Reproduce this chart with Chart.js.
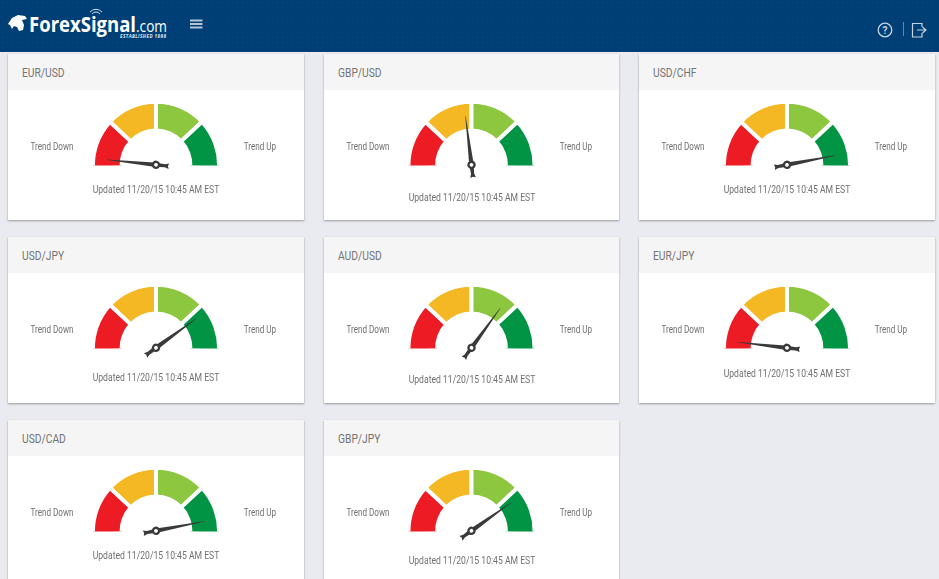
<!DOCTYPE html>
<html>
<head>
<meta charset="utf-8">
<title>ForexSignal trend meters</title>
<script src="https://cdn.jsdelivr.net/npm/chart.js@4"></script>
<style>
  * { box-sizing: border-box; }
  html, body { margin: 0; height: 100%; overflow: hidden; }
  body { background: #e9ebf0; font-family: Roboto, sans-serif; color: #707070; position: relative; }
  .topbar {
    position: absolute; left: 0; top: 0; width: 939px; height: 52px; background-color: #003f76;
    background-image: radial-gradient(rgba(255,255,255,0.035) 0.6px, transparent 0.8px);
    background-size: 5px 5px;
  }
  .topbar svg { position: absolute; left: 0; top: 0; }
  .grid {
    position: absolute; left: 8px; top: 54px;
    display: grid; grid-template-columns: 296px 295px 296px; column-gap: 20px;
    grid-auto-rows: 166px; row-gap: 17px;
  }
  .card { position: relative; background: #fff; box-shadow: 0 1px 2px rgba(0,0,0,0.35); }
  .card-head { height: 36px; background: #f5f5f5; }
  .card canvas { position: absolute; left: 0; top: 36px; }
  .txt { position: absolute; white-space: nowrap; font-size: 10.5px; line-height: 12px; transform: translate(-50%, -50%) scaleX(0.82); }
  .trend { font-size: 10px; transform: translate(-50%, -50%) scaleX(0.81); }
  .title { position: absolute; left: 13.5px; top: 11px; font-size: 13px; line-height: 15px; color: #747474; transform: scaleX(0.79); transform-origin: left center; white-space: nowrap; }
</style>
</head>
<body>
<div class="topbar">
  <svg width="939" height="52" xmlns="http://www.w3.org/2000/svg">
    <path d="M8 24 L12 18 L18 15 L25 16 L27 19 L22 20 L24 25 L23 30 L19 31 L17 27 L14 26 L12 29 L10 25 Z" fill="#fff"/>
    <text x="29" y="32" font-family="Open Sans" font-weight="700" font-size="21.5" fill="#fff" textLength="107" lengthAdjust="spacingAndGlyphs">ForexSignal</text>
    <text x="136" y="32" font-family="Open Sans" font-size="16.5" fill="#fff" textLength="31" lengthAdjust="spacingAndGlyphs">.com</text>
    <text x="120" y="37.5" font-family="Open Sans" font-style="italic" font-weight="700" font-size="4.6" fill="#dfe7ef" textLength="46" lengthAdjust="spacing">ESTABLISHED 1998</text>
    <g fill="none" stroke="#cfdbe6" stroke-width="1">
      <path d="M90 12 A8 8 0 0 1 102 12"/><path d="M92 14 A5 5 0 0 1 100 14"/>
    </g>
    <g fill="#b5c6d5"><rect x="190" y="19.500" width="12.500" height="2"/><rect x="190" y="23" width="12.500" height="2"/><rect x="190" y="26.500" width="12.500" height="2"/></g>
    <circle cx="885" cy="30" r="6.800" fill="none" stroke="#c6d4e0" stroke-width="1.300"/>
    <text x="885" y="33.500" text-anchor="middle" font-family="Roboto" font-weight="700" font-size="10" fill="#c6d4e0">?</text>
    <rect x="903" y="22" width="1" height="14" fill="#5f88ab"/>
    <path d="M922 27 V23.500 H912.500 V37 H922 V33" fill="none" stroke="#c6d4e0" stroke-width="1.200"/>
    <path d="M917 30 H925 M922.500 27 L926 30 L922.500 33" fill="none" stroke="#c6d4e0" stroke-width="1.200"/>
  </svg>
</div>
<div class="grid" id="grid"></div>
<script>
const pairs = ["EUR/USD", "GBP/USD", "USD/CHF", "USD/JPY", "AUD/USD", "EUR/JPY", "USD/CAD", "GBP/JPY"];
// needle reading in degrees, 0 = far left (trend down), 180 = far right (trend up)
const needleAngles = [6, 83, 169, 144, 126, 6.5, 169, 144.5];
const zones = ["Strong down", "Down", "Up", "Strong up"];
const zoneSizes = [1, 1, 1, 1];
const zoneColors = ["#ed1c24", "#f4b825", "#8dc63f", "#009444"];
const leftLabel = "Trend Down";
const rightLabel = "Trend Up";
const updatedLabel = "Updated 11/20/15 10:45 AM EST";
// the caption sits a little lower or higher from card to card
const captionTops = [135.5, 143.5, 135.5, 140.5, 142.5, 136.5, 135.5, 140.5];

const needlePlugin = {
  id: "needle",
  // arcs run slightly past the half circle, cut them flat at the base line
  beforeDatasetsDraw(chart) {
    const arc = chart.getDatasetMeta(0).data[0];
    const ctx = chart.ctx;
    ctx.save();
    ctx.beginPath();
    ctx.rect(0, 0, chart.width, arc.y + 0.6);
    ctx.clip();
  },
  afterDatasetsDraw(chart, args, opts) {
    const arc = chart.getDatasetMeta(0).data[0];
    const ctx = chart.ctx;
    ctx.restore();
    ctx.save();
    ctx.translate(arc.x, arc.y);
    ctx.rotate(Math.PI + (opts.angle * Math.PI) / 180);
    ctx.fillStyle = "#3a3a3a";
    ctx.beginPath();
    ctx.moveTo(49, -0.2);
    ctx.lineTo(49, 0.2);
    ctx.lineTo(2, 2.2);
    ctx.lineTo(-9, 1.6);
    ctx.lineTo(-13, 2.8);
    ctx.lineTo(-12, 0);
    ctx.lineTo(-13, -2.8);
    ctx.lineTo(-9, -1.6);
    ctx.lineTo(2, -2.2);
    ctx.closePath();
    ctx.fill();
    ctx.beginPath();
    ctx.arc(0, 0, 4.2, 0, Math.PI * 2);
    ctx.fill();
    ctx.fillStyle = "#fff";
    ctx.beginPath();
    ctx.arc(0, 0, 1.9, 0, Math.PI * 2);
    ctx.fill();
    ctx.restore();
  },
};

const grid = document.getElementById("grid");

pairs.forEach((pair, i) => {
  const cardWidth = i % 3 === 1 ? 295 : 296;
  const card = document.createElement("div");
  card.className = "card";
  card.innerHTML = `
    <div class="card-head"></div>
    <div class="title">${pair}</div>
    <canvas width="${cardWidth}" height="110" style="width:${cardWidth}px;height:110px"></canvas>
    <div class="txt trend" style="left:43.5px;top:93px">${leftLabel}</div>
    <div class="txt trend" style="left:252px;top:93px">${rightLabel}</div>
    <div class="txt" style="left:148px;top:${captionTops[i]}px">${updatedLabel}</div>`;
  grid.appendChild(card);

  new Chart(card.querySelector("canvas"), {
    type: "doughnut",
    data: {
      labels: zones,
      datasets: [
        {
          data: zoneSizes,
          backgroundColor: zoneColors,
          borderColor: "#fff",
          borderWidth: 4,
        },
      ],
    },
    options: {
      responsive: false,
      animation: false,
      rotation: -94,
      circumference: 188,
      radius: 63,
      cutout: "54.5%",
      layout: { padding: { top: 14, bottom: 33 } },
      plugins: {
        legend: { display: false },
        tooltip: { enabled: false },
        needle: { angle: needleAngles[i] },
      },
    },
    plugins: [needlePlugin],
  });
});
</script>
</body>
</html>
